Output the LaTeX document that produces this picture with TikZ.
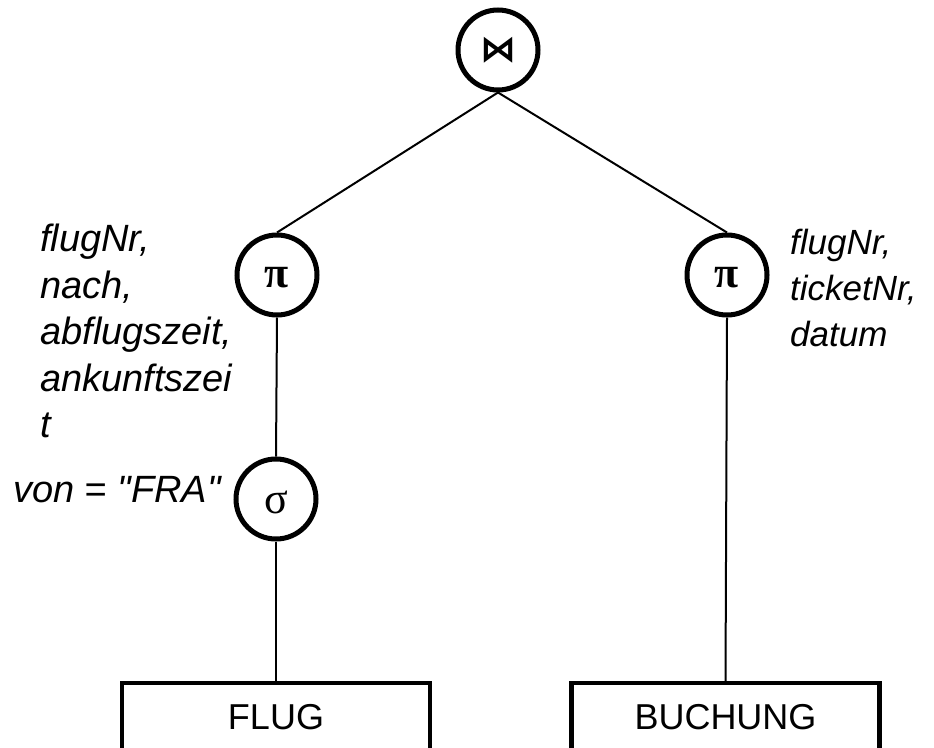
\documentclass[tikz,border=0pt]{standalone}
\usepackage{fontspec}
\setmainfont{Liberation Sans}[Ligatures=TeXOff]
\newfontfamily\grfont{Liberation Serif}
\newfontfamily\symfont{DejaVu Sans}
\begin{document}
\begin{tikzpicture}[x=1pt,y=-1pt,
  op/.style={circle,draw,line width=5pt,minimum size=80pt,inner sep=0pt},
  rel/.style={rectangle,draw,line width=4.5pt,minimum width=308pt,minimum height=69pt,inner sep=0pt,font=\fontsize{36}{42}\selectfont},
  lbl/.style={inner sep=0pt,align=left,font=\fontsize{38}{46.5}\selectfont\itshape},
  lblr/.style={inner sep=0pt,align=left,font=\fontsize{35}{46}\selectfont\itshape},
  sym/.style={font=\grfont\fontsize{44}{44}\selectfont, yshift=-3pt},
  edge/.style={line width=2pt}]
\useasboundingbox (0,0) rectangle (934,747);
\node[op] (join) at (498,50) {\symfont\bfseries\fontsize{36}{36}\selectfont ⋈};
\node[op] (pl) at (277,275) {};
\node[op] (pr) at (727,275) {};
\node[op] (sg) at (276,499) {};
\node[sym] (plsym) at (pl.center) {\bfseries π};
\node[sym] (prsym) at (pr.center) {\bfseries π};
\node[sym] (sgsym) at (sg.center) {σ};
\node[rel] (flug) at (276,717.5) {FLUG};
\node[rel] (buch) at (725.5,717.5) {BUCHUNG};
\draw[edge] (join.south) -- (pl.north);
\draw[edge] (join.south) -- (pr.north);
\draw[edge] (pl.south) -- (sg.north);
\draw[edge] (sg.south) -- (flug.north);
\draw[edge] (pr.south) -- (buch.north);
\node[lbl,anchor=north west] (lblpl) at (40,224) {flugNr,\\nach,\\abflugszeit,\\ankunftszei\\t};
\node[lblr,anchor=north west] (lblpr) at (790,229) {flugNr,\\ticketNr,\\datum};
\node[lbl,anchor=base west] (lblsg) at (13,502) {von = "FRA"};
\end{tikzpicture}
\end{document}
